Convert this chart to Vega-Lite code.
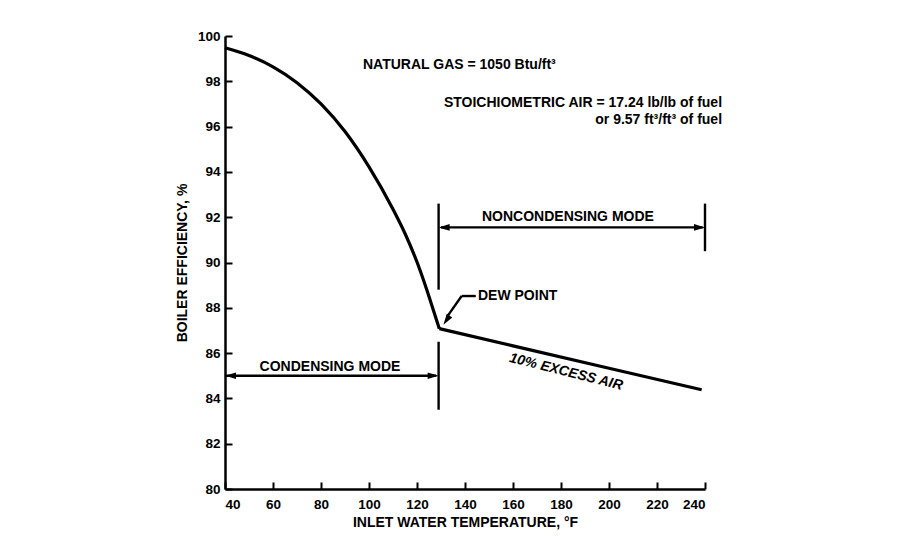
{
  "$schema": "https://vega.github.io/schema/vega-lite/v6.json",
  "width": 480,
  "height": 453,
  "autosize": "none",
  "padding": {"left": 225, "top": 36, "right": 195, "bottom": 61},
  "background": "white",
  "config": {
    "view": {"stroke": null},
    "font": "Liberation Sans",
    "axis": {
      "domainColor": "black",
      "domainWidth": 2.5,
      "tickColor": "black",
      "tickWidth": 2,
      "tickSize": -7,
      "labelColor": "black",
      "labelFont": "Liberation Sans",
      "labelFontSize": 13.5,
      "labelFontWeight": "bold",
      "titleFont": "Liberation Sans",
      "titleFontSize": 14,
      "titleFontWeight": "bold",
      "titleColor": "black",
      "grid": false
    }
  },
  "datasets": {
    "curve": [
      {"T": 40, "eff": 99.48},
      {"T": 50, "eff": 99.14},
      {"T": 60, "eff": 98.64},
      {"T": 70, "eff": 97.94},
      {"T": 80, "eff": 97.0},
      {"T": 90, "eff": 95.78},
      {"T": 100, "eff": 94.22},
      {"T": 110, "eff": 92.35},
      {"T": 115, "eff": 91.28},
      {"T": 120, "eff": 90.02},
      {"T": 124, "eff": 88.82},
      {"T": 127, "eff": 87.84},
      {"T": 129.3, "eff": 87.08},
      {"T": 160, "eff": 86.32},
      {"T": 200, "eff": 85.33},
      {"T": 238.6, "eff": 84.38}
    ],
    "segments": [
      {"T": 40, "eff": 85, "T2": 128, "eff2": 85},
      {"T": 129, "eff": 86.5, "T2": 129, "eff2": 83.5},
      {"T": 129, "eff": 92.6, "T2": 129, "eff2": 88.8},
      {"T": 240, "eff": 92.6, "T2": 240, "eff2": 90.5},
      {"T": 130, "eff": 91.55, "T2": 239, "eff2": 91.55},
      {"T": 144.5, "eff": 88.52, "T2": 138.6, "eff2": 88.52},
      {"T": 138.6, "eff": 88.52, "T2": 132.5, "eff2": 87.6}
    ],
    "arrows": [
      {"T": 40, "eff": 85, "dir": "left"},
      {"T": 129, "eff": 85, "dir": "right"},
      {"T": 129, "eff": 91.55, "dir": "left"},
      {"T": 240, "eff": 91.55, "dir": "right"},
      {"T": 131, "eff": 87.25, "dir": "dew"}
    ],
    "labels": [
      {"T": 97.5, "eff": 98.72, "label": "NATURAL GAS = 1050 Btu/ft³", "pos": "left"},
      {"T": 247.1, "eff": 97.04, "label": "STOICHIOMETRIC AIR = 17.24 lb/lb of fuel", "pos": "right"},
      {"T": 247.1, "eff": 96.29, "label": "or 9.57 ft³/ft³ of fuel", "pos": "right"},
      {"T": 182.9, "eff": 92.0, "label": "NONCONDENSING MODE", "pos": "center"},
      {"T": 145.4, "eff": 88.5, "label": "DEW POINT", "pos": "left"},
      {"T": 83.75, "eff": 85.39, "label": "CONDENSING MODE", "pos": "center"}
    ],
    "curveLabel": [
      {"T": 182.1, "eff": 85.17, "label": "10% EXCESS AIR"}
    ]
  },
  "encoding": {
    "x": {
      "field": "T",
      "type": "quantitative",
      "scale": {"domain": [40, 240], "nice": false, "zero": false},
      "axis": {
        "title": "INLET WATER TEMPERATURE, °F",
        "values": [40, 60, 80, 100, 120, 140, 160, 180, 200, 220, 240],
        "labelPadding": 15,
        "titlePadding": 5
      }
    },
    "y": {
      "field": "eff",
      "type": "quantitative",
      "scale": {"domain": [80, 100], "nice": false, "zero": false},
      "axis": {
        "title": "BOILER EFFICIENCY, %",
        "values": [80, 82, 84, 86, 88, 90, 92, 94, 96, 98, 100],
        "labelPadding": 12,
        "titlePadding": 8
      }
    }
  },
  "layer": [
    {
      "data": {"name": "curve"},
      "transform": [{"filter": "datum.T <= 129.3"}],
      "mark": {"type": "line", "color": "black", "strokeWidth": 3.2, "interpolate": "monotone", "strokeJoin": "round"}
    },
    {
      "data": {"name": "curve"},
      "transform": [{"filter": "datum.T >= 129.3"}],
      "mark": {"type": "line", "color": "black", "strokeWidth": 3.2, "strokeJoin": "round"}
    },
    {
      "data": {"name": "segments"},
      "mark": {"type": "rule", "color": "black", "strokeWidth": 2.4},
      "encoding": {
        "x2": {"field": "T2"},
        "y2": {"field": "eff2"}
      }
    },
    {
      "data": {"name": "arrows"},
      "mark": {"type": "point", "filled": true, "color": "black", "opacity": 1, "size": 121, "strokeWidth": 0},
      "encoding": {
        "shape": {
          "field": "dir",
          "type": "nominal",
          "scale": {
            "domain": ["left", "right", "dew"],
            "range": ["M0,0L2,-0.6L2,0.6Z", "M0,0L-2,-0.6L-2,0.6Z", "M0,0L1.615,-1.323L0.621,-1.993Z"]
          },
          "legend": null
        }
      }
    },
    {
      "data": {"name": "labels"},
      "transform": [{"filter": "datum.pos == 'left'"}],
      "mark": {"type": "text", "align": "left", "baseline": "middle", "font": "Liberation Sans", "fontSize": 14, "fontWeight": "bold", "color": "black"},
      "encoding": {"text": {"field": "label"}}
    },
    {
      "data": {"name": "labels"},
      "transform": [{"filter": "datum.pos == 'right'"}],
      "mark": {"type": "text", "align": "right", "baseline": "middle", "font": "Liberation Sans", "fontSize": 14, "fontWeight": "bold", "color": "black"},
      "encoding": {"text": {"field": "label"}}
    },
    {
      "data": {"name": "labels"},
      "transform": [{"filter": "datum.pos == 'center'"}],
      "mark": {"type": "text", "align": "center", "baseline": "middle", "font": "Liberation Sans", "fontSize": 14, "fontWeight": "bold", "color": "black"},
      "encoding": {"text": {"field": "label"}}
    },
    {
      "data": {"name": "curveLabel"},
      "mark": {"type": "text", "align": "center", "baseline": "middle", "angle": 14, "font": "Liberation Sans", "fontSize": 14, "fontWeight": "bold", "fontStyle": "italic", "color": "black"},
      "encoding": {"text": {"field": "label"}}
    }
  ]
}
